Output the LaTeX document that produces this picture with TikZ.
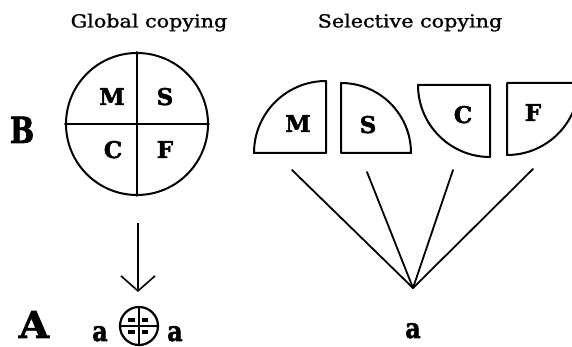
\documentclass[tikz,border=0pt]{standalone}
\usepackage{fontspec}
\setmainfont{DejaVu Serif}
\newfontfamily\heavyserif[FakeBold=2]{DejaVu Serif Bold}
\newfontfamily\titleserif[FakeBold=1.2]{DejaVu Serif}
\usetikzlibrary{arrows.meta}
\tikzset{
  ink/.style={line width=2pt, line join=round, line cap=round},
  title/.style={anchor=base, inner sep=0pt, font=\fontsize{18}{18}\titleserif},
  quad/.style={anchor=base, inner sep=0pt, font=\fontsize{23}{23}\heavyserif},
  biglet/.style={anchor=base, inner sep=0pt, font=\fontsize{#1}{#1}\heavyserif},
  smalla/.style={anchor=base, inner sep=0pt, font=\fontsize{28}{28}\heavyserif},
  fan/.style={line width=1.8pt, line cap=round},
}
\begin{document}
\begin{tikzpicture}[x=1pt,y=1pt]
\useasboundingbox (0,0) rectangle (572,347);
\begin{scope}
\clip (0,0) rectangle (572,347);

% headings
\node[title] (tglob) at (149,319.5) {\scalebox{1.15}[1]{Global copying}};
\node[title] (tsel) at (410,319.5) {\scalebox{1.15}[1]{Selective copying}};

% level labels
\node[biglet=36] (labB) at (22,204) {\scalebox{0.8}[1]{B}};
\node[biglet=37] (labA) at (34,9) {\scalebox{1.05}[1]{A}};

% whole circle, split into four quadrants
\node[ink, draw, circle, minimum size=142pt, inner sep=0pt] (whole) at (137,223) {};
\draw[ink] (whole.north) -- (whole.south);
\draw[ink] (whole.west) -- (whole.east);
\node[quad] (wM) at (112,242) {M};
\node[quad] (wS) at (165,242) {S};
\node[quad] (wC) at (113,189) {C};
\node[quad] (wF) at (165,189) {F};

% arrow down to the copy
\coordinate (arrtop) at (138,124);
\coordinate (arrbot) at (138,55);
\draw[line width=1.6pt, -{Straight Barb[length=15pt,width=34pt,line width=1.6pt]}] (arrtop) -- (arrbot);

% a (small circle) a
\node[smalla] (a1) at (100,6) {\scalebox{0.85}[1]{a}};
\node[smalla] (a2) at (175,6) {\scalebox{0.85}[1]{a}};
\node[draw, circle, line width=2.2pt, minimum size=38pt, inner sep=0pt] (mini) at (139,21) {};
\draw[line width=1.8pt] (mini.north) -- (mini.south);
\draw[line width=1.8pt] (mini.west) -- (mini.east);
\fill (128,25) rectangle (135,29);
\fill (142,25) rectangle (148,29);
\fill (128,13) rectangle (135,17);
\fill (142,13) rectangle (148,17);

% separated quadrants
\draw[ink] (326,194) -- (254,194) arc[start angle=180, end angle=90, radius=72] -- cycle;
\draw[ink] (341,194) -- (341,264) arc[start angle=90, end angle=0, radius=70] -- cycle;
\draw[ink] (490,262) -- (418,262) arc[start angle=180, end angle=270, radius=72] -- cycle;
\draw[ink] (507,264) -- (507,192) arc[start angle=270, end angle=360, radius=72] -- cycle;
\node[quad] (pM) at (298,215) {M};
\node[quad] (pS) at (368,214) {S};
\node[quad] (pC) at (463,224) {C};
\node[quad] (pF) at (533,226) {F};

% fan converging on the single copy
\coordinate (f1) at (292,177);
\coordinate (f2) at (367,175);
\coordinate (f3) at (453,177);
\coordinate (f4) at (533,178);
\coordinate (apex) at (413,59);
\draw[fan] (f1) -- (apex);
\draw[fan] (f2) -- (apex);
\draw[fan] (f3) -- (apex);
\draw[fan] (f4) -- (apex);
\node[smalla] (a3) at (413,9) {\scalebox{0.85}[1]{a}};
\end{scope}
\end{tikzpicture}
\end{document}
